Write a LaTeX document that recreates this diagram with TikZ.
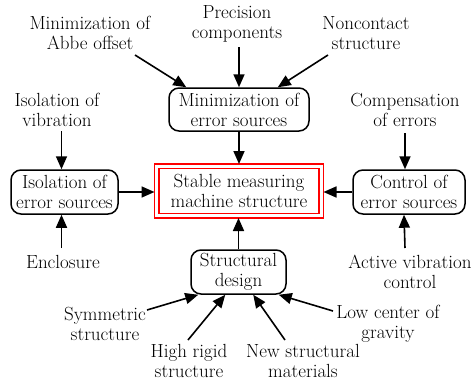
\documentclass[tikz,border=0pt]{standalone}
\usetikzlibrary{arrows.meta,calc}
\begin{document}
\begin{tikzpicture}[x=1pt,y=-1pt,
  every node/.style={font=\fontsize{19}{20}\selectfont, align=center, inner sep=0pt},
  rbox/.style={draw, line width=1.5pt, rounded corners=10pt},
  cbox/.style={draw=red, line width=1.2pt, outer sep=0pt},
  arr/.style={line width=1.6pt, -{Triangle[length=13pt,width=11pt]}}]
\useasboundingbox (0,0) rectangle (475,380);
% boxes
\node[rbox, minimum width=140pt, minimum height=43pt] (minbox) at (239,109.5) {Minimization of\\error sources};
\node[cbox, minimum width=169pt, minimum height=54pt] (center) at (239,191) {};
\node[cbox, minimum width=160pt, minimum height=45pt] (centerin) at (239,191) {Stable measuring\\machine structure};
\node[rbox, minimum width=107pt, minimum height=44pt] (leftbox) at (64.5,192) {Isolation of\\error sources};
\node[rbox, minimum width=112pt, minimum height=44pt] (rightbox) at (409,192) {Control of\\error sources};
\node[rbox, minimum width=95pt, minimum height=44pt] (struct) at (238.5,272) {Structural\\design};
% labels
\node (abbe) at (90,33) {Minimization of\\Abbe offset};
\node (prec) at (237,24) {Precision\\components};
\node (noncon) at (366,33) {Noncontact\\structure};
\node (isovib) at (57,110) {Isolation of\\vibration};
\node (comp) at (405,110) {Compensation\\of errors};
\node (encl) at (63,262) {Enclosure};
\node (active) at (410,272) {Active vibration\\control};
\node (symm) at (105,324) {Symmetric\\structure};
\node (highrigid) at (189,361) {High rigid\\structure};
\node (newmat) at (303,361) {New structural\\materials};
\node (lowcog) at (388,324) {Low center of\\gravity};
% arrows
\draw[arr] ($(abbe)+(45,22)$) -- ($(minbox.north west)+(18,0)$);
\draw[arr] ($(prec)+(2,23)$) -- (minbox.north);
\draw[arr] ($(noncon)+(-38,22)$) -- ($(minbox.north east)+(-32,0)$);
\draw[arr] (minbox.south) -- (minbox.south |- center.north);
\draw[arr] ($(isovib)+(4.5,21)$) -- ($(leftbox.north)+(-3,0)$);
\draw[arr] ($(encl)+(-1.5,-14)$) -- ($(leftbox.south)+(-3,0)$);
\draw[arr] (leftbox.east) -- (leftbox.east -| center.west);
\draw[arr] ($(comp)+(0,23)$) -- ($(rightbox.north)+(-4,0)$);
\draw[arr] ($(active)+(-5,-24)$) -- ($(rightbox.south)+(-5,0)$);
\draw[arr] (rightbox.west) -- (rightbox.west -| center.east);
\draw[arr] (struct.north) -- (struct.north |- center.south);
\draw[arr] ($(symm)+(42,-14)$) -- ($(struct.south west)+(8,0)$);
\draw[arr] ($(highrigid)+(-1,-21)$) -- ($(struct.south west)+(35,0)$);
\draw[arr] ($(newmat)+(-18,-21)$) -- ($(struct.south west)+(63,0)$);
\draw[arr] ($(lowcog)+(-55,-13)$) -- ($(struct.south east)+(-8,0)$);
\end{tikzpicture}
\end{document}
